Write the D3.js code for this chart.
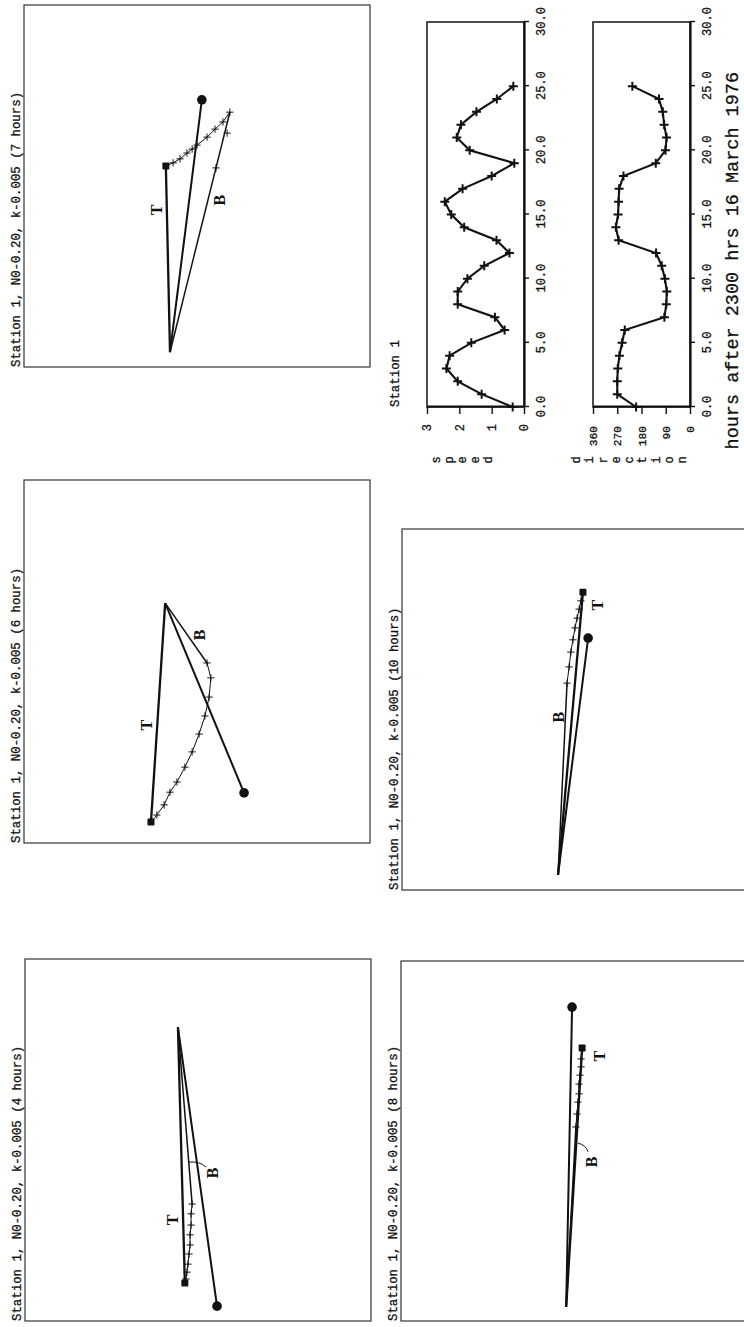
<!DOCTYPE html>
<html>
<head>
<meta charset="utf-8">
<script src="https://cdn.jsdelivr.net/npm/d3@7"></script>
<style>
  body { margin: 0; background: #fff; }
  svg { display: block; }
</style>
</head>
<body>
<svg id="fig" width="744" height="1327"></svg>
<script>
// ---- time series (Station 1) ----
const hours = [0,1,2,3,4,5,6,7,8,9,10,11,12,13,14,15,16,17,18,19,20,21,22,23,24,25];
const speed = [0.35,1.31,2.05,2.4,2.3,1.63,0.6,0.9,2.05,2.05,1.75,1.23,0.45,0.85,1.85,2.25,2.45,1.9,1.0,0.3,1.68,2.08,1.95,1.47,0.84,0.33];
const direction = [200,270,270,268,262,252,242,95,88,86,93,105,126,265,275,267,265,263,247,127,91,87,96,101,115,214];
const hourTicks = [0,5,10,15,20,25,30];
const speedTicks = [0,1,2,3];
const dirTicks = [0,90,180,270,360];

// ---- trajectory panels, positions in panel units (0-100 each way) ----
const panelHours = [4, 6, 7, 8, 10];
const origins = [[81.2,55.8],[66.1,59.2],[4.1,57.8],[3.9,52.4],[4.2,54.9]];
const circles = [[4.1,44.5],[13.8,36.4],[73.8,48.6],[87.2,50.7],[69.8,46.2]];
// end positions from top (T) down to bottom (B)
const profiles = [
  [[10.5,53.8],[11.6,53.5],[13.5,53.2],[15.7,52.9],[18.5,52.6],[21.0,52.3],[23.8,52.3],[26.5,52.0],[29.6,52.0],[32.3,51.7]],
  [[5.8,63.3],[7.7,61.6],[10.5,59.5],[14.0,57.8],[16.8,55.8],[20.9,53.5],[25.1,51.4],[30.0,49.4],[35.0,47.7],[40.2,46.5],[45.5,46.0],[49.6,47.1]],
  [[55.5,59.0],[56.4,56.9],[57.5,54.9],[59.1,52.9],[60.2,51.4],[61.3,50.0],[63.5,47.1],[65.7,44.8],[67.7,42.5],[70.4,40.5]],
  [[75.8,47.8],[72.8,48.1],[70.6,48.1],[68.3,48.4],[65.8,48.7],[63.1,48.7],[60.8,49.0],[57.5,49.3],[53.9,49.6]],
  [[82.5,47.7],[80.1,48.3],[77.8,48.8],[75.3,49.4],[72.6,50.0],[69.3,50.6],[65.9,51.2],[61.8,51.7],[57.3,52.3]]
];
const bMarks = [[], [], [[55.0,44.5],[64.6,41.3]], [], []];
const tLabels = [[27.9,57.5],[32.5,64.5],[43.4,61.6],[73.6,42.7],[78.9,43.6]];
const bLabels = [[40.9,45.7],[57.3,49.4],[46.1,43.4],[44.2,45.2],[47.9,54.9]];
const bLeaders = [[[43.9,52.9],[44.2,49.4],[42.5,47.7]], null, null, [[49.4,49.0],[48.9,46.7],[47.0,46.1]], null];

// ---- layout of the landscape figure (before it is turned onto the page) ----
const panelBoxes = [
  {x: 6,   y: 25,  w: 362, h: 346},
  {x: 484, y: 24,  w: 363, h: 346},
  {x: 960, y: 24,  w: 362, h: 346},
  {x: 6,   y: 401, w: 360, h: 347},
  {x: 437, y: 402, w: 361, h: 346}
];

const FONT = "'Liberation Mono','DejaVu Sans Mono',monospace";
const ink = "#111";

const svg = d3.select("#fig");
svg.append("rect").attr("width", 744).attr("height", 1327).attr("fill", "#fff");

// the page is printed sideways
const fig = svg.append("g").attr("transform", "translate(0,1327) rotate(-90)");

function cross(g, px, py, r, w) {
  g.append("path")
    .attr("d", `M${px - r},${py}H${px + r}M${px},${py - r}V${py + r}`)
    .attr("stroke", ink).attr("stroke-width", w).attr("fill", "none");
}

function label(sel, size) {
  return sel.attr("font-family", FONT).attr("font-size", size)
    .attr("fill", ink).attr("stroke", ink).attr("stroke-width", 0.3);
}

panelHours.forEach((hr, i) => {
  const box = panelBoxes[i];
  const x = d3.scaleLinear([0, 100], [box.x, box.x + box.w]);
  const y = d3.scaleLinear([0, 100], [box.y + box.h, box.y]);
  const line = d3.line().x(d => x(d[0])).y(d => y(d[1]));
  const g = fig.append("g");

  g.append("rect")
    .attr("x", box.x).attr("y", box.y).attr("width", box.w).attr("height", box.h)
    .attr("fill", "none").attr("stroke", "#333").attr("stroke-width", 1.2);

  label(g.append("text"), 12.4)
    .attr("x", box.x).attr("y", box.y - 4.5)
    .text(`Station 1, N0-0.20, k-0.005 (${hr} hours)`);

  const o = origins[i];
  const prof = profiles[i];

  // bottom trajectory
  g.append("path").attr("d", line([o, prof[prof.length - 1]]))
    .attr("stroke", ink).attr("stroke-width", 1.5).attr("fill", "none");
  // top trajectory
  g.append("path").attr("d", line([o, prof[0]]))
    .attr("stroke", ink).attr("stroke-width", 2.3).attr("fill", "none");
  // mean trajectory
  g.append("path").attr("d", line([o, circles[i]]))
    .attr("stroke", ink).attr("stroke-width", 2).attr("fill", "none");
  // end positions over depth
  g.append("path").attr("d", line(prof))
    .attr("stroke", ink).attr("stroke-width", 1).attr("fill", "none");
  prof.slice(1).forEach(d => cross(g, x(d[0]), y(d[1]), 3.6, 1));
  bMarks[i].forEach(d => cross(g, x(d[0]), y(d[1]), 3.6, 1));

  g.append("rect")
    .attr("x", x(prof[0][0]) - 3.5).attr("y", y(prof[0][1]) - 3.5)
    .attr("width", 7).attr("height", 7).attr("rx", 1).attr("fill", ink);
  g.append("circle")
    .attr("cx", x(circles[i][0])).attr("cy", y(circles[i][1])).attr("r", 4.8)
    .attr("fill", ink);

  if (bLeaders[i]) {
    const [s, c, e] = bLeaders[i];
    g.append("path")
      .attr("d", `M${x(s[0])},${y(s[1])}Q${x(c[0])},${y(c[1])} ${x(e[0])},${y(e[1])}`)
      .attr("stroke", ink).attr("stroke-width", 1).attr("fill", "none");
  }

  [["T", tLabels[i]], ["B", bLabels[i]]].forEach(([t, p]) => {
    g.append("text")
      .attr("x", x(p[0])).attr("y", y(p[1]))
      .attr("text-anchor", "middle").attr("dominant-baseline", "central")
      .attr("font-family", "'Liberation Serif','DejaVu Serif',serif")
      .attr("font-weight", "bold").attr("font-size", 16)
      .attr("fill", ink).text(t);
  });
});

// ---- speed and direction against time ----
const hx = d3.scaleLinear([0, 30], [920, 1305]);
const sy = d3.scaleLinear([0, 3], [524, 427]);
const dy = d3.scaleLinear([0, 360], [690, 593]);

function series(yScale, values, ticks, pad, size) {
  const g = fig.append("g");
  const [y0, y1] = yScale.range();
  g.append("rect")
    .attr("x", hx(0)).attr("y", y1).attr("width", hx(30) - hx(0)).attr("height", y0 - y1)
    .attr("fill", "none").attr("stroke", ink).attr("stroke-width", 1.5);

  const ax = g.append("g").attr("transform", `translate(0,${y0})`)
    .call(d3.axisBottom(hx).tickValues(hourTicks).tickFormat(d3.format(".1f"))
      .tickSize(5).tickSizeOuter(0).tickPadding(7));
  const ay = g.append("g").attr("transform", `translate(${hx(0)},0)`)
    .call(d3.axisLeft(yScale).tickValues(ticks).tickFormat(d3.format("d"))
      .tickSize(7).tickSizeOuter(0).tickPadding(pad));
  ax.select(".domain").attr("stroke", ink).attr("stroke-width", 2.2);
  ay.select(".domain").attr("stroke", ink).attr("stroke-width", 2.2);
  ax.selectAll(".tick line").attr("stroke", ink).attr("stroke-width", 1.4);
  ay.selectAll(".tick line").attr("stroke", ink).attr("stroke-width", 1.4);
  label(ax.selectAll("text"), 12);
  label(ay.selectAll("text"), size);

  const pts = hours.map((h, k) => [hx(h), yScale(values[k])]);
  g.append("path").attr("d", d3.line()(pts))
    .attr("stroke", ink).attr("stroke-width", 2.1).attr("fill", "none");
  pts.forEach(p => cross(g, p[0], p[1], 4.5, 2));
}

series(sy, speed, speedTicks, 10, 12);
series(dy, direction, dirTicks, 12, 11.2);

label(fig.append("text"), 12.4)
  .attr("x", 920).attr("y", 399)
  .text("Station 1");

function stacked(word, yStart, step) {
  word.split("").forEach((ch, k) => {
    label(fig.append("text"), 12)
      .attr("x", 867).attr("y", yStart + k * step)
      .attr("text-anchor", "middle").attr("dominant-baseline", "central")
      .text(ch);
  });
}
stacked("speed", 437, 13);
stacked("direction", 577, 13.25);

label(fig.append("text"), 18.5)
  .attr("x", 1255).attr("y", 738)
  .attr("text-anchor", "end")
  .text("hours after 2300 hrs 16 March 1976");
</script>
</body>
</html>
